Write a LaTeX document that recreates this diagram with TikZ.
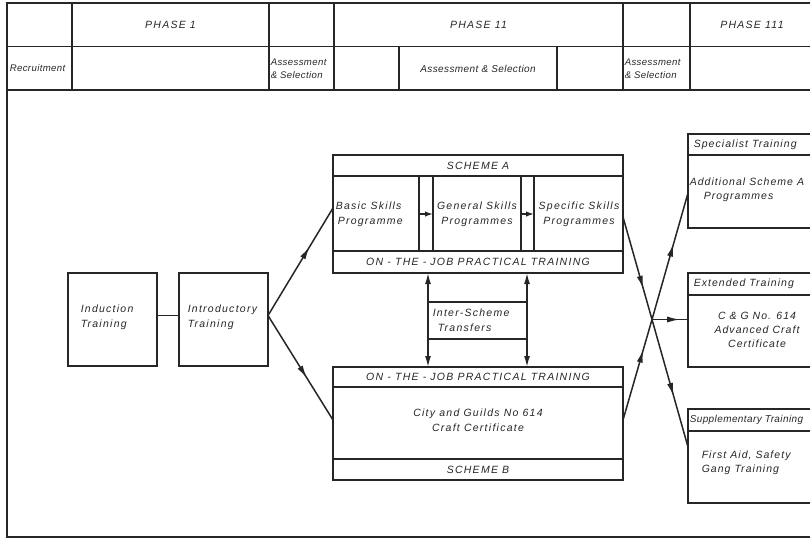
\documentclass[tikz,border=0pt]{standalone}
\usepackage{fontspec}
\setmainfont{Liberation Sans}
\newfontfamily\lett[LetterSpace=12]{Liberation Sans}
\newfontfamily\lettr[LetterSpace=10]{Liberation Sans}
\newfontfamily\lettn[LetterSpace=4]{Liberation Sans}
\usetikzlibrary{arrows.meta,decorations.markings}
\definecolor{ink}{gray}{0.15}
\tikzset{
  frame/.style={draw=ink, rectangle, anchor=north west, inner sep=0pt, outer sep=0pt, line width=1.5pt},
  txt/.style={font=\lett\itshape\fontsize{10.5}{15}\selectfont, inner sep=0pt, text=ink},
  rtxt/.style={font=\lettr\itshape\fontsize{10.5}{14}\selectfont, inner sep=0pt, text=ink},
  hdr/.style={font=\lett\itshape\fontsize{10.5}{12}\selectfont, inner sep=0pt, text=ink},
  sml/.style={font=\lettn\itshape\fontsize{9.6}{13}\selectfont, inner sep=0pt, text=ink},
  midarrow/.style={postaction={decorate}, decoration={markings,
     mark=at position #1 with {\arrow{Latex[length=13pt,width=6pt]}}}},
  tips/.style={{Latex[length=11pt,width=6pt]}-{Latex[length=11pt,width=6pt]}},
}
\begin{document}
\begin{tikzpicture}[x=1pt,y=-1pt, line width=1.5pt, draw=ink]
\useasboundingbox (0,0) rectangle (810,539);
\clip (0,0) rectangle (810,539);
% outer frame and header grid
\draw (830,3) -- (7,3) -- (7,537) -- (830,537);
\draw (7,46.5) -- (830,46.5);
\draw (7,90) -- (830,90);
\foreach \x in {72,269,334,623,690} \draw (\x,3) -- (\x,90);
\foreach \x in {399,557} \draw (\x,46.5) -- (\x,90);
% header texts
\node[hdr] (ph1) at (170.5,24.5) {PHASE 1};
\node[hdr] (ph2) at (478.5,24.5) {PHASE 11};
\node[hdr] (ph3) at (752,24.5) {PHASE 111};
\node[sml, anchor=west] (rec) at (9,68.5) {Recruitment};
\node[sml, anchor=west, align=left] (as1) at (270,68.5) {Assessment\\\& Selection};
\node[sml, font=\lettn\itshape\fontsize{10}{12}\selectfont] (as2) at (478,69) {Assessment \& Selection};
\node[sml, anchor=west, align=left] (as3) at (624,68.5) {Assessment\\\& Selection};
% left boxes
\node[frame, minimum width=89pt, minimum height=93pt] (ind) at (68,273) {};
\node[frame, minimum width=89pt, minimum height=93pt] (intro) at (179,273) {};
\node[txt, anchor=west, align=left] (indT) at (80,317) {Induction\\Training};
\node[txt, anchor=west, align=left] (introT) at (187,317) {Introductory\\Training};
\draw ([yshift=4pt]ind.east) -- ([yshift=4pt]intro.west);
% scheme A
\node[frame, minimum width=290pt, minimum height=118pt] (schA) at (333,155) {};
\draw (333,176) -- (623,176);
\draw (333,251) -- (623,251);
\foreach \x in {419,433,521,534} \draw (\x,176) -- (\x,251);
\node[txt] (schAT) at (478,165.5) {SCHEME A};
\node[txt] (ojtA) at (478,262) {ON - THE - JOB  PRACTICAL  TRAINING};
\node[txt, anchor=west, align=left] (basic) at (335,214) {Basic Skills\\\hspace{2pt}Programme};
\node[txt, align=center] (gen) at (477,214) {General Skills\\Programmes};
\node[txt, align=center] (spec) at (579,214) {Specific Skills\\Programmes};
\coordinate (g1a) at (419,214); \coordinate (g1b) at (433,214);
\coordinate (g2a) at (521,214); \coordinate (g2b) at (534,214);
\draw[-{Latex[length=8pt,width=5.5pt]}] (g1a) -- (g1b);
\draw[-{Latex[length=8pt,width=5.5pt]}] (g2a) -- (g2b);
% scheme B
\node[frame, minimum width=290pt, minimum height=113pt] (schB) at (333,367) {};
\draw (333,387) -- (623,387);
\draw (333,459) -- (623,459);
\node[txt] (ojtB) at (478,377) {ON - THE - JOB  PRACTICAL  TRAINING};
\node[txt, align=center] (cg) at (478,420) {City and Guilds No 614\\Craft Certificate};
\node[txt] (schBT) at (478,470) {SCHEME B};
% inter-scheme transfers
\coordinate (isLa) at (428,273); \coordinate (isLb) at (428,367);
\coordinate (isRa) at (527,273); \coordinate (isRb) at (527,367);
\draw[tips] (isLa) -- (isLb);
\draw[tips] (isRa) -- (isRb);
\draw (428,302) -- (527,302);
\draw (428,339) -- (527,339);
\node[txt, anchor=west, align=left] (ist) at (432,320) {Inter-Scheme\\\hspace{5pt}Transfers};
% connectors from introductory training
\coordinate (aIn) at (333,208);
\coordinate (bIn) at (333,420);
\draw[midarrow=0.64] ([yshift=4pt]intro.east) -- (aIn);
\draw[midarrow=0.6] ([yshift=4pt]intro.east) -- (bIn);
% right boxes
\node[frame, minimum width=142pt, minimum height=94pt] (spc) at (688,134) {};
\draw (688,155) -- (830,155);
\node[rtxt, anchor=west] (spcH) at (693,144.5) {Specialist Training};
\node[rtxt, anchor=west, align=left] (spcT) at (689,190) {Additional Scheme A\\\hspace{14pt}Programmes};
\node[frame, minimum width=142pt, minimum height=94pt] (ext) at (688,273) {};
\draw (688,295) -- (830,295);
\node[rtxt, anchor=west] (extH) at (693,284) {Extended Training};
\node[rtxt, align=center] (extT) at (757,330) {C \& G No. 614\\Advanced Craft\\Certificate};
\node[frame, minimum width=142pt, minimum height=94pt] (sup) at (688,409) {};
\draw (688,431) -- (830,431);
\node[sml, anchor=west, font=\lettn\itshape\fontsize{10}{12}\selectfont] (supH) at (689,420) {Supplementary Training};
\node[rtxt, anchor=west, align=left] (supT) at (701,463) {First Aid, Safety\\Gang Training};
% connectors to phase III
\coordinate (aOut) at (623,217);
\coordinate (bOut) at (623,420);
\coordinate (X) at (652,319.5);
\coordinate (spcIn) at (688,193);
\coordinate (extIn) at (688,319.5);
\coordinate (supIn) at (688,447);
\draw[midarrow=0.7] (aOut) -- (X);
\draw[midarrow=0.7] (bOut) -- (X);
\draw[midarrow=0.6] (X) -- (spcIn);
\draw[midarrow=0.78] (X) -- (extIn);
\draw[midarrow=0.6] (X) -- (supIn);
\end{tikzpicture}
\end{document}
